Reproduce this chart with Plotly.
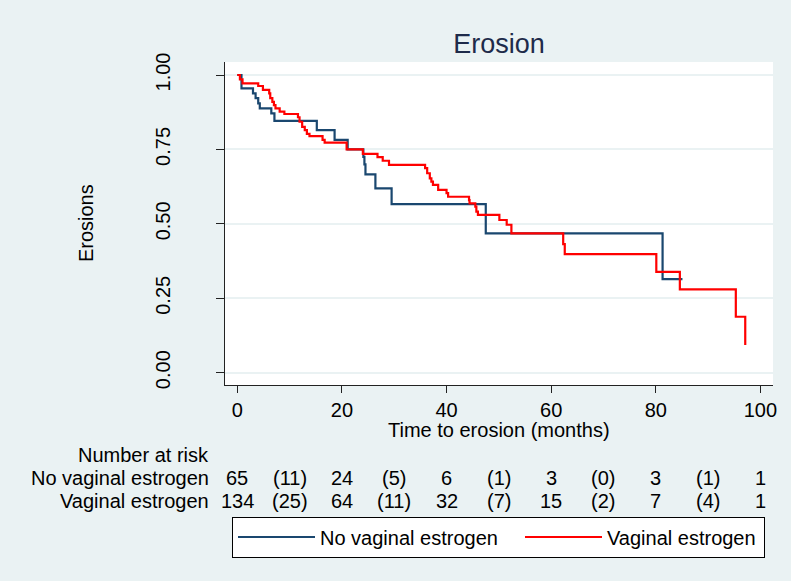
import plotly.graph_objects as go

# ---------------- data ----------------
no_ve_time = [0, 0.8, 3.0, 3.5, 4.0, 4.3, 6.5, 7.1, 15.2, 18.6, 21.1, 24.1, 24.3, 24.5, 26.4, 29.5, 47.5, 81.3, 85.1]
no_ve_surv = [1.0, 0.955, 0.938, 0.922, 0.905, 0.888, 0.871, 0.846, 0.815, 0.782, 0.750, 0.725, 0.700, 0.666, 0.619, 0.566, 0.468, 0.314, 0.314]

ve_time = [0, 0.5, 1.0, 4.0, 4.9, 6.1, 6.3, 6.7, 7.0, 7.3, 8.1, 9.0, 11.6, 11.9, 12.4, 12.9, 13.3, 13.8,
           16.3, 16.7, 20.9, 24.0, 26.8, 27.8, 29.0, 35.9, 36.3, 36.8, 37.1, 37.4, 38.4, 40.0, 40.3,
           44.3, 44.4, 45.5, 45.7, 46.0, 50.1, 51.5, 52.4, 62.3, 62.6, 80.1, 84.6, 95.3, 97.1, 97.1]
ve_surv = [1.0, 0.985, 0.972, 0.963, 0.950, 0.938, 0.922, 0.910, 0.899, 0.888, 0.877, 0.869, 0.858, 0.843, 0.826, 0.815, 0.802, 0.795,
           0.782, 0.773, 0.750, 0.735, 0.724, 0.712, 0.698, 0.687, 0.670, 0.653, 0.642, 0.631, 0.614, 0.603, 0.591,
           0.580, 0.569, 0.558, 0.541, 0.530, 0.513, 0.497, 0.468, 0.432, 0.398, 0.339, 0.280, 0.188, 0.188, 0.093]

risk_times = [0, 10, 20, 30, 40, 50, 60, 70, 80, 90, 100]
risk_no_ve = ["65", "(11)", "24", "(5)", "6", "(1)", "3", "(0)", "3", "(1)", "1"]
risk_ve = ["134", "(25)", "64", "(11)", "32", "(7)", "15", "(2)", "7", "(4)", "1"]
group_names = ["No vaginal estrogen", "Vaginal estrogen"]

y_ticks = [0, 0.25, 0.5, 0.75, 1.0]
x_ticks = [0, 20, 40, 60, 80, 100]

# ---------------- layout constants ----------------
W, H = 791, 581
L, R, T, B = 225, 773.3, 62, 385
FONT = "Liberation Sans, Arial, sans-serif"
BG = "#EAF2F3"
NAVY = "#1A476F"


def py(p):
    return (B - p) / (B - T)


def px(p):
    return (p - L) / (R - L)


fig = go.Figure()
fig.add_trace(go.Scatter(x=no_ve_time, y=no_ve_surv, mode="lines", line_shape="hv",
                         line=dict(color=NAVY, width=2.2), name=group_names[0], legendwidth=195))
fig.add_trace(go.Scatter(x=ve_time, y=ve_surv, mode="lines", line_shape="hv",
                         line=dict(color="#FF0000", width=2.2), name=group_names[1], legendwidth=152))

ann = []
# axis titles
ann.append(dict(text="Time to erosion (months)", xref="paper", yref="paper", x=px(499), y=py(430),
                showarrow=False, font=dict(size=20, color="black"), xanchor="center", yanchor="middle"))
ann.append(dict(text="Erosions", xref="paper", yref="paper", x=px(86), y=py(223), textangle=-90,
                showarrow=False, font=dict(size=20, color="black"), xanchor="center", yanchor="middle"))
# risk table
ann.append(dict(text="Number at risk", xref="paper", yref="paper", x=px(211), y=py(455),
                showarrow=False, font=dict(size=20, color="black"), xanchor="right", yanchor="middle"))
for name, row, ypix in [(group_names[0], risk_no_ve, 478), (group_names[1], risk_ve, 501)]:
    ann.append(dict(text=name, xref="paper", yref="paper", x=px(211), y=py(ypix),
                    showarrow=False, font=dict(size=20, color="black"), xanchor="right", yanchor="middle"))
    for t, v in zip(risk_times, row):
        ann.append(dict(text=v, xref="x", yref="paper", x=t, y=py(ypix), showarrow=False,
                        font=dict(size=20, color="black"), xanchor="center", yanchor="middle"))

fig.update_layout(
    width=W, height=H,
    margin=dict(l=L, r=W - R, t=T, b=H - B, pad=0),
    paper_bgcolor=BG, plot_bgcolor="white",
    font=dict(family=FONT, size=20, color="black"),
    title=dict(text="Erosion", x=499 / W, xanchor="center", y=1 - 44 / H, yanchor="middle",
               yref="container", xref="container", font=dict(size=27, color="#1E2B4A")),
    showlegend=True,
    legend=dict(orientation="h", x=px(232), y=py(516.5), xanchor="left", yanchor="top",
                bgcolor="white", bordercolor="black", borderwidth=1,
                font=dict(size=20, color="black"), itemwidth=77,
                tracegroupgap=0),
    annotations=ann,
)
fig.update_xaxes(range=[(L - 237.3) / 5.234, (R - 237.3) / 5.234], tickvals=x_ticks,
                 showgrid=False, zeroline=False, showline=True, linecolor="#222", linewidth=1,
                 ticks="outside", ticklen=7, tickcolor="#222",
                 tickfont=dict(size=20, color="black"))
fig.update_yaxes(range=[(372.7 - B) / 297.7, (372.7 - T) / 297.7], tickvals=y_ticks,
                 tickformat=".2f", tickangle=-90,
                 showgrid=True, gridcolor=BG, gridwidth=1.5, zeroline=False,
                 showline=True, linecolor="#222", linewidth=1,
                 ticks="outside", ticklen=8, tickcolor="#222", ticklabelstandoff=38,
                 tickfont=dict(size=20, color="black"))

fig.write_html("out.html", config={"displayModeBar": False},
               post_script="document.body.style.margin='0';document.body.style.overflow='hidden';")
